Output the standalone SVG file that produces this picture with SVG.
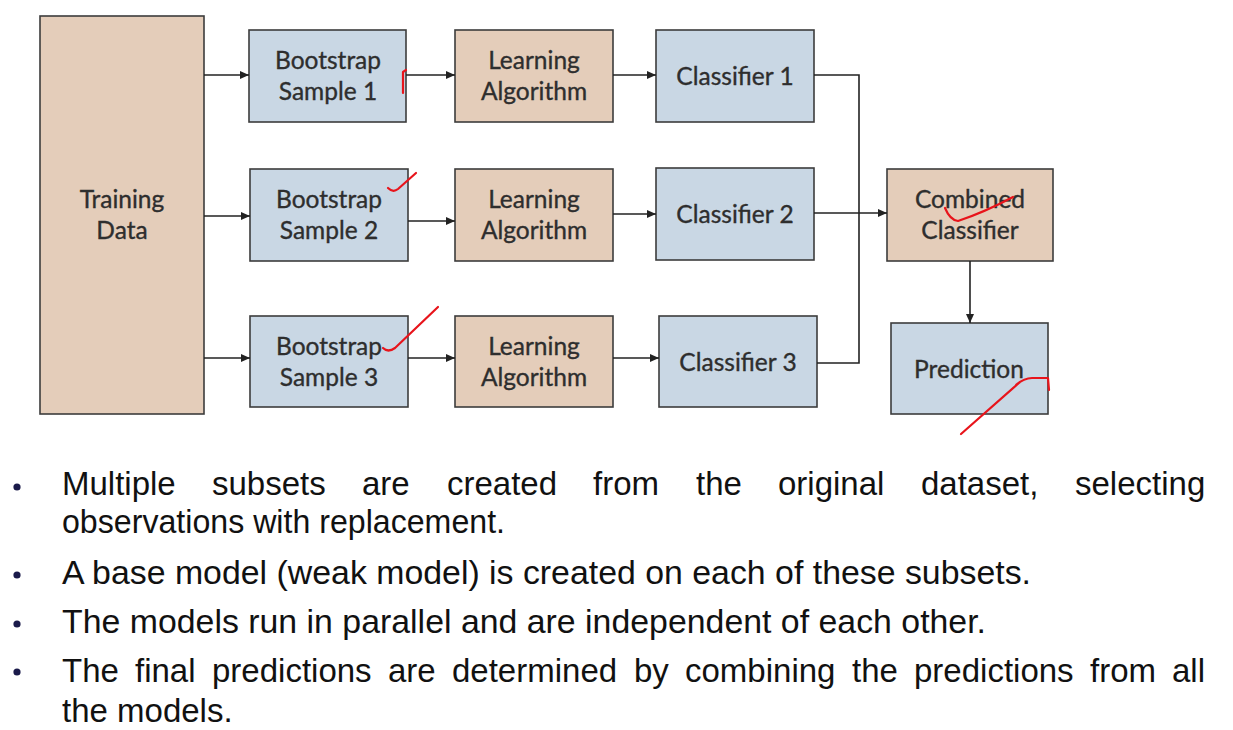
<svg xmlns="http://www.w3.org/2000/svg" width="1233" height="730" viewBox="0 0 1233 730">
<defs>
<style>
.peach{fill:#e4cdba;stroke:#3c3c3c;stroke-width:1.6}
.blue{fill:#c9d7e4;stroke:#3c3c3c;stroke-width:1.6}
.bt{font-family:Lato,"Open Sans",sans-serif;font-size:24.5px;fill:#2e2e2e;stroke:#2e2e2e;stroke-width:0.35;text-anchor:middle}
.con{fill:none;stroke:#222;stroke-width:1.6}
.red{fill:none;stroke:#e8141b;stroke-width:2.2;stroke-linecap:round;stroke-linejoin:round}
.tx{font-family:"Liberation Sans",Arial,sans-serif;font-size:33px;fill:#111}
.dot{fill:#1a1a4a}
</style>
<marker id="arr" markerWidth="10" markerHeight="8" refX="9" refY="4" orient="auto" markerUnits="userSpaceOnUse">
<path d="M0,0 L9,4 L0,8 Z" fill="#222"/>
</marker>
</defs>
<rect width="1233" height="730" fill="#ffffff"/>

<g id="training-data"><rect class="peach" x="40" y="16" width="164" height="398"/><text class="bt" x="122" y="208">Training</text><text class="bt" x="122" y="239">Data</text></g>

<g id="bootstrap-1"><rect class="blue" x="249" y="30" width="157" height="92"/><text class="bt" x="328" y="69">Bootstrap</text><text class="bt" x="328" y="100">Sample 1</text></g>
<g id="learning-1"><rect class="peach" x="455" y="30" width="158" height="92"/><text class="bt" x="534" y="69">Learning</text><text class="bt" x="534" y="100">Algorithm</text></g>
<g id="classifier-1"><rect class="blue" x="656" y="30" width="158" height="92"/><text class="bt" x="735" y="85">Classifier 1</text></g>

<g id="bootstrap-2"><rect class="blue" x="250" y="169" width="158" height="92"/><text class="bt" x="329" y="208">Bootstrap</text><text class="bt" x="329" y="239">Sample 2</text></g>
<g id="learning-2"><rect class="peach" x="455" y="169" width="158" height="92"/><text class="bt" x="534" y="208">Learning</text><text class="bt" x="534" y="239">Algorithm</text></g>
<g id="classifier-2"><rect class="blue" x="656" y="168" width="158" height="92"/><text class="bt" x="735" y="223">Classifier 2</text></g>

<g id="bootstrap-3"><rect class="blue" x="250" y="316" width="158" height="91"/><text class="bt" x="329" y="355">Bootstrap</text><text class="bt" x="329" y="386">Sample 3</text></g>
<g id="learning-3"><rect class="peach" x="455" y="316" width="158" height="91"/><text class="bt" x="534" y="355">Learning</text><text class="bt" x="534" y="386">Algorithm</text></g>
<g id="classifier-3"><rect class="blue" x="659" y="316" width="158" height="91"/><text class="bt" x="738" y="371">Classifier 3</text></g>

<g id="combined-classifier"><rect class="peach" x="887" y="169" width="166" height="92"/><text class="bt" x="970" y="208">Combined</text><text class="bt" x="970" y="239">Classifier</text></g>
<g id="prediction"><rect class="blue" x="891" y="323" width="157" height="91"/><text class="bt" x="969" y="378">Prediction</text></g>

<g id="connectors">
<line class="con" x1="204" y1="75" x2="249" y2="75" marker-end="url(#arr)"/>
<line class="con" x1="204" y1="216" x2="250" y2="216" marker-end="url(#arr)"/>
<line class="con" x1="204" y1="358" x2="250" y2="358" marker-end="url(#arr)"/>
<line class="con" x1="406" y1="75" x2="455" y2="75" marker-end="url(#arr)"/>
<line class="con" x1="408" y1="221" x2="455" y2="221" marker-end="url(#arr)"/>
<line class="con" x1="408" y1="358" x2="455" y2="358" marker-end="url(#arr)"/>
<line class="con" x1="613" y1="75" x2="656" y2="75" marker-end="url(#arr)"/>
<line class="con" x1="613" y1="214" x2="656" y2="214" marker-end="url(#arr)"/>
<line class="con" x1="613" y1="358" x2="659" y2="358" marker-end="url(#arr)"/>
<polyline class="con" points="814,75 859,75 859,363 817,363"/>
<line class="con" x1="814" y1="213" x2="887" y2="213" marker-end="url(#arr)"/>
<line class="con" x1="970" y1="261" x2="970" y2="323" marker-end="url(#arr)"/>
</g>

<g id="annotations">
<path class="red" d="M403,93 L403,72 L406,70"/>
<path class="red" d="M388,188 Q393,193 398,189 L416,173"/>
<path class="red" d="M383,348 Q388,353 395,348 L438,307"/>
<path class="red" d="M945,208 Q950,220 958,221 Q985,212 1013,197"/>
<path class="red" d="M961,434 L1020,382 L1016,385 Q1024,378 1032,378 L1048,378 L1049,390"/>
</g>

<g id="bullets">
<circle class="dot" cx="17" cy="487" r="3.6"/>
<circle class="dot" cx="17" cy="575" r="3.6"/>
<circle class="dot" cx="17" cy="624" r="3.6"/>
<circle class="dot" cx="17" cy="672" r="3.6"/>
<text class="tx" x="62" y="495">Multiple</text>
<text class="tx" x="212" y="495">subsets</text>
<text class="tx" x="362" y="495">are</text>
<text class="tx" x="447" y="495">created</text>
<text class="tx" x="593" y="495">from</text>
<text class="tx" x="696" y="495">the</text>
<text class="tx" x="778" y="495">original</text>
<text class="tx" x="921" y="495">dataset,</text>
<text class="tx" x="1075" y="495">selecting</text>
<text class="tx" x="62" y="533" textLength="443" lengthAdjust="spacingAndGlyphs">observations with replacement.</text>
<text class="tx" x="62" y="584" textLength="969" lengthAdjust="spacingAndGlyphs">A base model (weak model) is created on each of these subsets.</text>
<text class="tx" x="62" y="633" textLength="924" lengthAdjust="spacingAndGlyphs">The models run in parallel and are independent of each other.</text>
<text class="tx" x="62" y="682">The</text>
<text class="tx" x="135" y="682">final</text>
<text class="tx" x="212" y="682">predictions</text>
<text class="tx" x="388" y="682">are</text>
<text class="tx" x="452" y="682">determined</text>
<text class="tx" x="634" y="682">by</text>
<text class="tx" x="685" y="682">combining</text>
<text class="tx" x="852" y="682">the</text>
<text class="tx" x="914" y="682">predictions</text>
<text class="tx" x="1090" y="682">from</text>
<text class="tx" x="1172" y="682">all</text>
<text class="tx" x="62" y="722">the models.</text>
</g>
</svg>
